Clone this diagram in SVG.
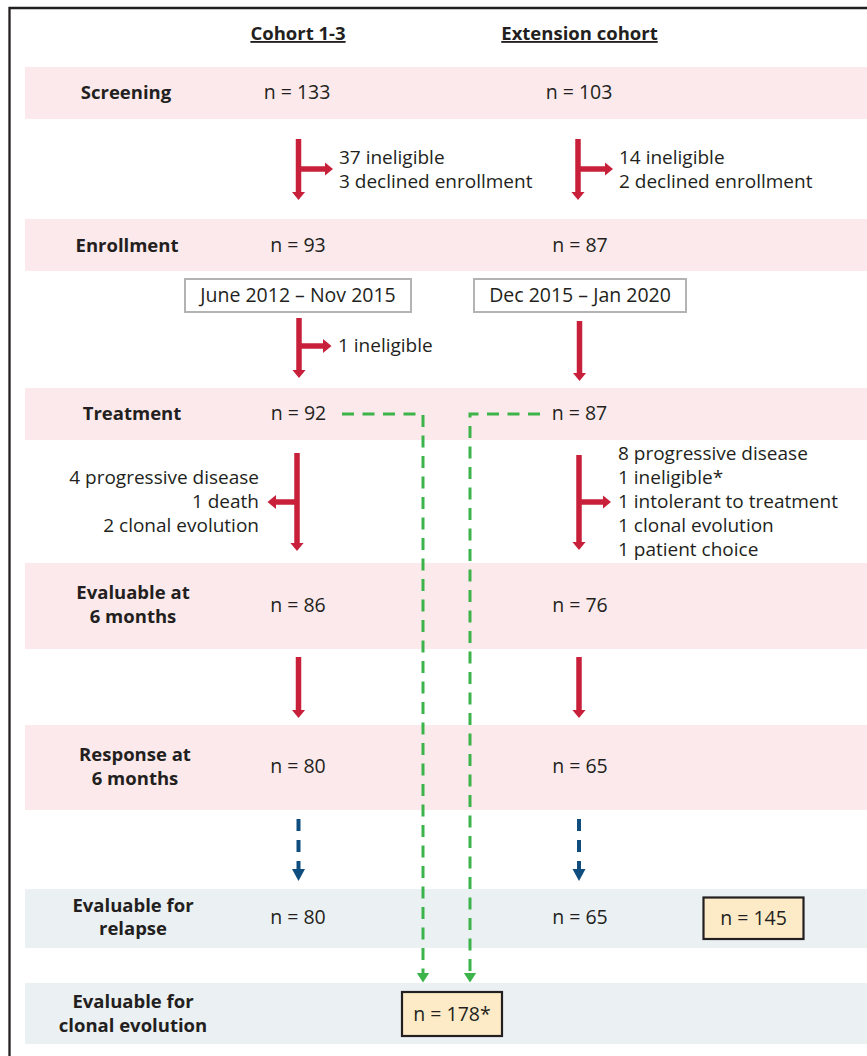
<svg xmlns="http://www.w3.org/2000/svg" width="867" height="1056" viewBox="0 0 867 1056">
<style>
  text { font-family: "Open Sans", "Liberation Sans", sans-serif; fill: #231f20; }
  .lbl { font-weight: 700; font-size: 18.5px; text-anchor: middle; }
  .hdr { font-weight: 700; font-size: 18.5px; text-anchor: middle; text-decoration: underline; }
  .n { font-size: 19.5px; text-anchor: middle; }
  .t { font-size: 19px; }
  .tr { font-size: 19px; text-anchor: end; }
  .pink { fill: #fce9eb; }
  .grey { fill: #ebf0f3; }
  .date { fill: #ffffff; stroke: #b3b3b3; stroke-width: 2; }
  .tot { fill: #fdebc7; stroke: #231f20; stroke-width: 2.2; }
  .red { stroke: #c8203a; stroke-width: 5.5; fill: none; marker-end: url(#hr); }
  .blue { stroke: #0e4d7e; stroke-width: 4; fill: none; stroke-dasharray: 12 9; marker-end: url(#hb); }
  .green { stroke: #3cb44a; stroke-width: 3; fill: none; stroke-dasharray: 12 8.5; marker-end: url(#hg); }
</style>
<defs>
  <marker id="hr" markerUnits="userSpaceOnUse" markerWidth="10" markerHeight="14" refX="0.5" refY="7" orient="auto">
    <path d="M0,0 L8.5,7 L0,14 z" fill="#c8203a"/>
  </marker>
  <marker id="hb" markerUnits="userSpaceOnUse" markerWidth="14" markerHeight="14" refX="0.5" refY="6.5" orient="auto">
    <path d="M0,0 L12,6.5 L0,13 z" fill="#0e4d7e"/>
  </marker>
  <marker id="hg" markerUnits="userSpaceOnUse" markerWidth="12" markerHeight="14" refX="0.5" refY="6.5" orient="auto">
    <path d="M0,0 L10,6.5 L0,13 z" fill="#3cb44a"/>
  </marker>
</defs>

<path d="M9.5,1056 V8 H867" fill="none" stroke="#231f20" stroke-width="2.3"/>

<g id="headers">
  <text class="hdr" x="298" y="40">Cohort 1-3</text>
  <text class="hdr" x="579.5" y="40">Extension cohort</text>
</g>

<g id="screening">
  <rect class="pink" x="25" y="67" width="842" height="52"/>
  <text class="lbl" x="126" y="99">Screening</text>
  <text class="n" x="297" y="99">n = 133</text>
  <text class="n" x="579" y="99">n = 103</text>
</g>

<g id="excl-screening">
  <text class="t" x="339" y="163.5">37 ineligible</text>
  <text class="t" x="339" y="187.5">3 declined enrollment</text>
  <text class="t" x="619" y="163.5">14 ineligible</text>
  <text class="t" x="619" y="187.5">2 declined enrollment</text>
</g>

<g id="enrollment">
  <rect class="pink" x="25" y="219" width="842" height="52"/>
  <text class="lbl" x="127" y="252">Enrollment</text>
  <text class="n" x="298" y="252">n = 93</text>
  <text class="n" x="580" y="252">n = 87</text>
</g>

<g id="dates">
  <rect class="date" x="185" y="279" width="226" height="33"/>
  <text class="n" x="298" y="302">June 2012 – Nov 2015</text>
  <rect class="date" x="474" y="279" width="212" height="33"/>
  <text class="n" x="580" y="302">Dec 2015 – Jan 2020</text>
</g>

<g id="excl-enrollment">
  <text class="t" x="338" y="352">1 ineligible</text>
</g>

<g id="treatment">
  <rect class="pink" x="25" y="388" width="842" height="52"/>
  <text class="lbl" x="132" y="420">Treatment</text>
  <text class="n" x="298.5" y="420">n = 92</text>
  <text class="n" x="579.5" y="420">n = 87</text>
</g>

<g id="excl-treatment">
  <text class="tr" x="259" y="483.5">4 progressive disease</text>
  <text class="tr" x="259" y="507.5">1 death</text>
  <text class="tr" x="259" y="531.5">2 clonal evolution</text>
  <text class="t" x="618" y="460">8 progressive disease</text>
  <text class="t" x="618" y="484">1 ineligible*</text>
  <text class="t" x="618" y="508">1 intolerant to treatment</text>
  <text class="t" x="618" y="532">1 clonal evolution</text>
  <text class="t" x="618" y="556">1 patient choice</text>
</g>

<g id="evaluable6">
  <rect class="pink" x="25" y="563" width="842" height="86"/>
  <text class="lbl" x="133" y="599">Evaluable at</text>
  <text class="lbl" x="133" y="623">6 months</text>
  <text class="n" x="298" y="612">n = 86</text>
  <text class="n" x="580" y="612">n = 76</text>
</g>

<g id="response6">
  <rect class="pink" x="25" y="725" width="842" height="85"/>
  <text class="lbl" x="135" y="761">Response at</text>
  <text class="lbl" x="135" y="785">6 months</text>
  <text class="n" x="298" y="773">n = 80</text>
  <text class="n" x="580" y="773">n = 65</text>
</g>

<g id="relapse">
  <rect class="grey" x="25" y="889" width="842" height="59"/>
  <text class="lbl" x="133" y="912">Evaluable for</text>
  <text class="lbl" x="133" y="935">relapse</text>
  <text class="n" x="298" y="924">n = 80</text>
  <text class="n" x="580" y="924">n = 65</text>
  <rect class="tot" x="703.5" y="897.5" width="100" height="41.5"/>
  <text class="n" x="753.5" y="925">n = 145</text>
</g>

<g id="clonal">
  <rect class="grey" x="25" y="983" width="842" height="61"/>
  <text class="lbl" x="133" y="1008">Evaluable for</text>
  <text class="lbl" x="133" y="1032">clonal evolution</text>
  <rect class="tot" x="402" y="992" width="100" height="44"/>
  <text class="n" x="452" y="1021">n = 178*</text>
</g>

<g id="connectors">
  <path class="red" d="M298.5,139 V192"/>
  <path class="red" d="M298.5,169 H325"/>
  <path class="red" d="M578,139 V192"/>
  <path class="red" d="M578,169 H605"/>
  <path class="red" d="M299,318 V370"/>
  <path class="red" d="M299,346 H323.5"/>
  <path class="red" d="M579.5,321 V373"/>
  <path class="red" d="M297,453 V543"/>
  <path class="red" d="M297,502 H275.5"/>
  <path class="red" d="M579,455 V542"/>
  <path class="red" d="M579,502 H603"/>
  <path class="red" d="M298.5,657 V710"/>
  <path class="red" d="M579,657 V710"/>
  <path class="blue" d="M298.5,819 V869.5"/>
  <path class="blue" d="M579,819 V869.5"/>
  <path class="green" d="M342,414 H423 V973"/>
  <path class="green" d="M540,414 H470 V973"/>
</g>
</svg>
